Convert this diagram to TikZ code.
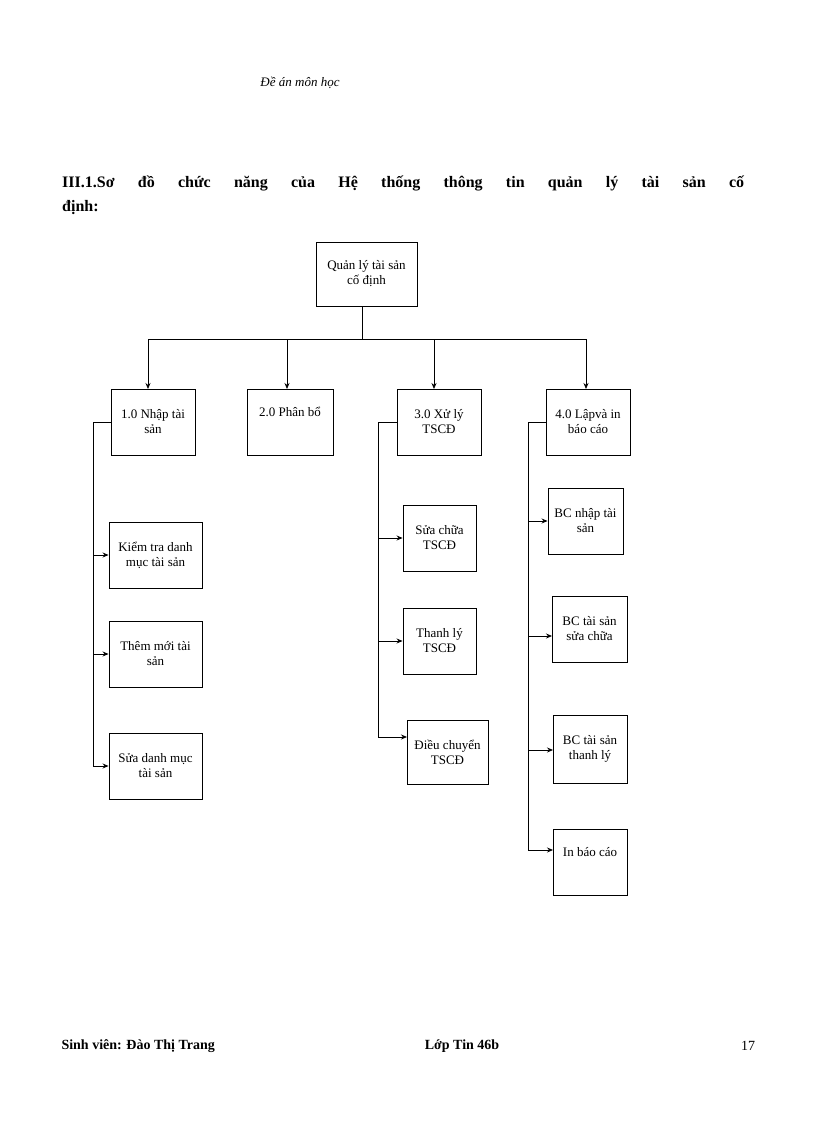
\documentclass[tikz,border=0pt]{standalone}
\usepackage{fontspec}
\setmainfont{Liberation Serif}
\usetikzlibrary{arrows.meta}
\begin{document}
\begin{tikzpicture}[x=1pt,y=-1pt,
  bx/.style={draw,line width=0.9pt,inner sep=2pt,align=center,font=\fontsize{13}{15}\selectfont},
  ar/.style={-{Stealth[length=6pt,width=5pt]},line width=0.8pt},
  ln/.style={line width=0.8pt}]
\useasboundingbox (0,0) rectangle (816,1123);
\node[font=\itshape\fontsize{13}{15}\selectfont] (hdr) at (300,83) {Đề án môn học};
\node[anchor=west,font=\bfseries\fontsize{16}{19}\selectfont,inner sep=0] (t1) at (62,183) {\makebox[682pt][s]{III.1.Sơ đồ chức năng của Hệ thống thông tin quản lý tài sản cố}};
\node[anchor=west,font=\bfseries\fontsize{16}{19}\selectfont,inner sep=0] (t2) at (62,208) {định:};
% root
\node[bx,minimum width=101pt,minimum height=64pt] (root) at (366.5,274) {Quản lý tài sản\\cố định};
\node[bx,minimum width=84pt,minimum height=66pt] (b1) at (153,422) {1.0 Nhập tài\\sản};
\node[bx,minimum width=86pt,minimum height=66pt] (b2) at (290,422) {2.0 Phân bổ\\ \strut};
\node[bx,minimum width=84pt,minimum height=66pt] (b3) at (439,422) {3.0 Xử lý\\TSCĐ};
\node[bx,minimum width=84pt,minimum height=66pt] (b4) at (588,422) {4.0 Lậpvà in\\báo cáo};
\coordinate (bus) at (362,339);
\draw[ln] (root.south -| bus) -- (bus);
\draw[ln] (148,339) -- (586,339);
\draw[ar] (148,339) -- (148,389);
\draw[ar] (287,339) -- (287,389);
\draw[ar] (434,339) -- (434,389);
\draw[ar] (586,339) -- (586,389);
% branch 1
\node[bx,minimum width=93pt,minimum height=66pt] (k1) at (155.5,555) {Kiểm tra danh\\mục tài sản};
\node[bx,minimum width=93pt,minimum height=66pt] (k2) at (155.5,654) {Thêm mới tài\\sản};
\node[bx,minimum width=93pt,minimum height=66pt] (k3) at (155.5,766) {Sửa danh mục\\tài sản};
\coordinate (v1) at (93,422);
\draw[ln] (b1.west) -- (v1) -- (93,767);
\foreach \n in {k1,k2,k3} \draw[ar] (\n.west -| v1) -- (\n.west);
% branch 3
\node[bx,minimum width=73pt,minimum height=66pt] (x1) at (439.5,538) {Sửa chữa\\TSCĐ};
\node[bx,minimum width=73pt,minimum height=66pt] (x2) at (439.5,641) {Thanh lý\\TSCĐ};
\node[bx,minimum width=81pt,minimum height=64pt] (x3) at (447.5,752) {Điều chuyển\\TSCĐ};
\coordinate (v3) at (378,422);
\draw[ln] (b3.west) -- (v3) -- (378,737);
\draw[ar] (x1.west -| v3) -- (x1.west);
\draw[ar] (x2.west -| v3) -- (x2.west);
\draw[ar] (378,737) -- (407,737);
% branch 4
\node[bx,minimum width=75pt,minimum height=66pt] (c1) at (585.5,521) {BC nhập tài\\sản};
\node[bx,minimum width=75pt,minimum height=66pt] (c2) at (589.5,629) {BC tài sản\\sửa chữa};
\node[bx,minimum width=74pt,minimum height=68pt] (c3) at (590,749) {BC tài sản\\thanh lý};
\node[bx,minimum width=74pt,minimum height=66pt] (c4) at (590,862) {In báo cáo\\ \strut};
\coordinate (v4) at (528,422);
\draw[ln] (b4.west) -- (v4) -- (528,850);
\draw[ar] (c1.west -| v4) -- (c1.west);
\draw[ar] (528,636) -- (552,636);
\draw[ar] (528,750) -- (553,750);
\draw[ar] (528,850) -- (553,850);
% footer
\node[anchor=west,font=\bfseries\fontsize{14}{16}\selectfont] (f1) at (58,1046) {Sinh viên: Đào Thị Trang};
\node[font=\bfseries\fontsize{14}{16}\selectfont] (f2) at (462,1046) {Lớp Tin 46b};
\node[font=\fontsize{14}{16}\selectfont] (f3) at (748,1046) {17};
\end{tikzpicture}
\end{document}
